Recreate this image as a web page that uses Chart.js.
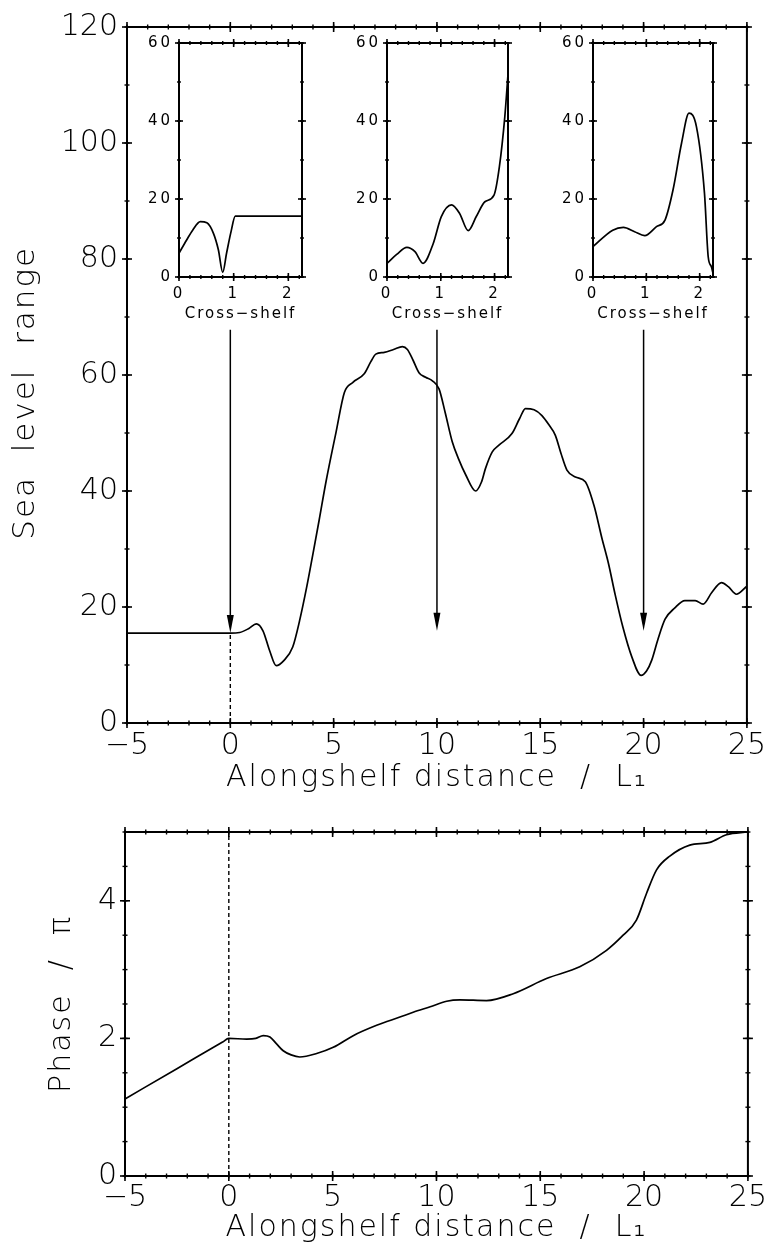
<!DOCTYPE html>
<html><head><meta charset="utf-8">
<script src="https://cdn.jsdelivr.net/npm/chart.js@4.4.1/dist/chart.umd.min.js"></script>
<style>
html,body{margin:0;padding:0;background:#fff;}
#wrap{position:relative;width:771px;height:1254px;overflow:hidden;background:#fff;}
canvas{position:absolute;}
</style></head><body>
<div id="wrap">
<canvas id="main" width="771" height="800" style="left:0;top:0;"></canvas>
<canvas id="phase" width="771" height="454" style="left:0;top:800px;"></canvas>
<canvas id="insetA" width="188" height="305" style="left:124px;top:25px;"></canvas>
<canvas id="insetB" width="186" height="305" style="left:332px;top:25px;"></canvas>
<canvas id="insetC" width="185" height="305" style="left:538px;top:25px;"></canvas>
</div>
<script>
// ---------- DATA ----------
const alongX = [-5, 0, 0.45, 0.9, 1.26, 1.58, 1.9, 2.22, 2.6, 3.02, 3.35, 3.7, 3.99, 4.3, 4.63, 5.12, 5.52, 5.92, 6.48, 6.8, 7.04, 7.45, 7.9, 8.33, 8.57, 8.85, 9.13, 9.45, 9.78, 10.1, 10.4, 10.74, 11.05, 11.39, 11.87, 12.15, 12.35, 12.67, 13.0, 13.63, 14.0, 14.28, 14.7, 15.08, 15.4, 15.73, 16.0, 16.29, 16.7, 17.18, 17.6, 17.98, 18.3, 18.62, 19.0, 19.43, 19.88, 20.15, 20.39, 20.7, 21.04, 21.5, 22.0, 22.5, 22.88, 23.3, 23.77, 24.1, 24.49, 25];
const seaLevelRange = [15.5, 15.5, 15.6, 16.3, 17.1, 15.9, 12.5, 9.9, 10.8, 13.1, 17.6, 23.5, 29, 35, 41.6, 50.2, 57, 58.7, 60.2, 62.3, 63.6, 63.9, 64.4, 64.9, 64.4, 62.5, 60.4, 59.6, 59.0, 57.6, 53.5, 48.5, 45.5, 42.8, 40.0, 41.5, 43.9, 46.7, 47.9, 49.9, 52.5, 54.2, 54.0, 53.0, 51.5, 49.6, 46.5, 43.6, 42.4, 41.6, 37.5, 31.9, 27.5, 22.2, 16.5, 11.4, 8.2, 9.0, 10.8, 14.5, 17.9, 19.8, 21.1, 21.1, 20.5, 22.5, 24.2, 23.5, 22.2, 23.6];

const phaseX = [-5, -2.5, -0.3, 0, 0.86, 1.3, 1.66, 1.98, 2.3, 2.62, 3.0, 3.42, 4.23, 5.03, 5.99, 7.12, 8.24, 8.88, 9.7, 10.49, 11.13, 12.41, 13.7, 15.3, 16.9, 18.19, 18.99, 19.63, 20.12, 20.6, 21.24, 22.2, 23.17, 23.97, 25];
const phaseOverPi = [1.12, 1.56, 1.947, 2.0, 1.99, 2.0, 2.04, 2.02, 1.92, 1.82, 1.76, 1.73, 1.78, 1.87, 2.04, 2.19, 2.31, 2.38, 2.46, 2.54, 2.56, 2.55, 2.65, 2.87, 3.04, 3.28, 3.50, 3.72, 4.11, 4.45, 4.65, 4.81, 4.85, 4.96, 5.0];

// cross-shelf profiles at alongshelf 0, 10, 20
const crossA_x = [0, 0.14, 0.25, 0.39, 0.51, 0.63, 0.72, 0.80, 0.87, 0.95, 1.03, 2.25];
const crossA_y = [6.1, 9.5, 12.0, 14.2, 13.9, 11.2, 7.0, 1.2, 6.1, 11.5, 15.6, 15.6];
const crossB_x = [0, 0.18, 0.37, 0.52, 0.67, 0.86, 1.01, 1.2, 1.35, 1.51, 1.66, 1.82, 1.99, 2.09, 2.19, 2.25];
const crossB_y = [3.5, 5.8, 7.6, 6.5, 3.5, 8.6, 15.5, 18.5, 16.3, 11.9, 15.5, 19.3, 21, 28.3, 41, 52];
const crossC_x = [0, 0.37, 0.57, 0.78, 0.97, 1.19, 1.35, 1.5, 1.66, 1.8, 1.94, 2.09, 2.16, 2.22, 2.25];
const crossC_y = [7.8, 12, 12.7, 11.6, 10.6, 12.9, 14.6, 22.3, 34.3, 42, 38.5, 21.5, 5.2, 2.6, 1];

// arrows (alongshelf position, start and tip values on the sea level axis)
const arrowX = [0, 10, 20];
const arrowFrom = [67.8, 67.8, 67.8];
const arrowTo = [15.5, 15.9, 15.9];

// tick labels
const alongTicks = [-5, 0, 5, 10, 15, 20, 25];
const rangeTicks = [0, 20, 40, 60, 80, 100, 120];
const phaseTicks = [0, 2, 4];
const crossTicks = [0, 1, 2];
const insetRangeTicks = [0, 20, 40, 60];

// ---------- HELPERS ----------
const FONT = "'DejaVu Sans', sans-serif";
function steps(a, b, s) { const r = []; for (let v = a; v <= b + 1e-9; v += s) r.push(+v.toFixed(4)); return r; }
function fmt(v) { return String(v).replace('-', '\u2212'); }
function pts(xs, ys) { return xs.map((x, i) => ({x, y: ys[i]})); }

const spacingPlugin = {
  id: 'spacing',
  beforeLayout(chart, a, o) { chart.ctx.letterSpacing = o.ticks || '0px'; },
  beforeDraw(chart, a, o) { chart.ctx.letterSpacing = o.title || '0px'; },
  beforeDatasetsDraw(chart, a, o) { chart.ctx.letterSpacing = o.ticks || '0px'; },
  afterDraw(chart) { chart.ctx.letterSpacing = '0px'; }
};

const framePlugin = {
  id: 'frame',
  afterDraw(chart, args, o) {
    const {ctx, chartArea: a} = chart;
    const xs = chart.scales.x, ys = chart.scales.y;
    ctx.save();
    ctx.strokeStyle = '#000';
    ctx.lineCap = 'butt';
    ctx.lineWidth = o.lineWidth;
    ctx.strokeRect(a.left, a.top, a.right - a.left, a.bottom - a.top);
    const seg = (x1, y1, x2, y2) => { ctx.beginPath(); ctx.moveTo(x1, y1); ctx.lineTo(x2, y2); ctx.stroke(); };
    const doX = (vals, len, w) => { ctx.lineWidth = w; vals.forEach(v => { const p = xs.getPixelForValue(v); seg(p, a.bottom - len, p, a.bottom + len); seg(p, a.top - len, p, a.top + len); }); };
    const doY = (vals, len, w) => { ctx.lineWidth = w; vals.forEach(v => { const p = ys.getPixelForValue(v); seg(a.left - len, p, a.left + len, p); seg(a.right - len, p, a.right + len, p); }); };
    doX(o.xMinor, o.minorLen, 1.4); doY(o.yMinor, o.minorLen, 1.4);
    doX(o.xMajor, o.majorLen, 1.6); doY(o.yMajor, o.majorLen, 1.6);
    ctx.restore();
  }
};

const guidePlugin = {
  id: 'guide',
  afterDatasetsDraw(chart, args, o) {
    if (!o || o.x === undefined) return;
    const {ctx} = chart;
    const xs = chart.scales.x, ys = chart.scales.y;
    const px = xs.getPixelForValue(o.x);
    ctx.save();
    ctx.strokeStyle = '#000';
    ctx.lineWidth = 1.4;
    ctx.setLineDash([4, 3]);
    ctx.beginPath();
    ctx.moveTo(px, ys.getPixelForValue(o.from));
    ctx.lineTo(px, ys.getPixelForValue(o.to));
    ctx.stroke();
    ctx.restore();
  }
};

const arrowPlugin = {
  id: 'arrows',
  afterDatasetsDraw(chart, args, o) {
    if (!o || !o.x) return;
    const {ctx} = chart;
    const xs = chart.scales.x, ys = chart.scales.y;
    ctx.save();
    ctx.strokeStyle = '#000'; ctx.fillStyle = '#000'; ctx.lineWidth = 1.5;
    o.x.forEach((xv, i) => {
      const px = xs.getPixelForValue(xv);
      const y1 = ys.getPixelForValue(o.from[i]);
      const y2 = ys.getPixelForValue(o.to[i]);
      ctx.beginPath(); ctx.moveTo(px, y1); ctx.lineTo(px, y2 - 10); ctx.stroke();
      ctx.beginPath(); ctx.moveTo(px - 3.5, y2 - 18); ctx.lineTo(px + 3.5, y2 - 18); ctx.lineTo(px, y2); ctx.closePath(); ctx.fill();
    });
    ctx.restore();
  }
};

function lineDataset(xs, ys) {
  return { data: pts(xs, ys), borderColor: '#000', borderWidth: 1.7, pointRadius: 0, fill: false, cubicInterpolationMode: 'monotone' };
}

function makeChart(id, o) {
  const f = (size) => ({ family: FONT, size, weight: o.weight });
  return new Chart(document.getElementById(id), {
    type: 'line',
    data: { datasets: [lineDataset(o.xs, o.ys)] },
    options: {
      responsive: false, animation: false, events: [],
      layout: { padding: o.padding },
      plugins: {
        legend: { display: false }, tooltip: { enabled: false },
        spacing: o.spacing,
        frame: o.frame,
        guide: o.guide || {},
        arrows: o.arrows || {}
      },
      scales: {
        x: {
          type: 'linear', min: o.xMin, max: o.xMax,
          afterBuildTicks: s => { s.ticks = o.xTicks.map(v => ({value: v})); },
          afterFit: s => { s.height = o.xHeight; },
          grid: { display: false, drawTicks: false }, border: { display: false },
          ticks: { z: 1, padding: o.xTickPad, color: '#000', font: f(o.tickSize), maxRotation: 0, minRotation: 0, autoSkip: false, callback: v => fmt(v) },
          title: o.xTitle ? { display: true, text: o.xTitle, color: '#000', font: f(o.titleSize), padding: { top: 0, bottom: o.xTitlePad } } : { display: false }
        },
        y: {
          type: 'linear', min: o.yMin, max: o.yMax,
          afterBuildTicks: s => { s.ticks = o.yTicks.map(v => ({value: v})); },
          afterFit: s => { s.width = o.yWidth; },
          grid: { display: false, drawTicks: false }, border: { display: false },
          ticks: { z: 1, padding: o.yTickPad, color: '#000', font: f(o.tickSize), autoSkip: false, callback: v => fmt(v) },
          title: o.yTitle ? { display: true, text: o.yTitle, color: '#000', font: f(o.yTitleSize || o.titleSize), padding: { top: o.yTitlePad, bottom: 0 } } : { display: false }
        }
      }
    },
    plugins: [spacingPlugin, framePlugin, guidePlugin, arrowPlugin]
  });
}

// ---------- MAIN (sea level range) ----------
makeChart('main', {
  xs: alongX, ys: seaLevelRange, weight: 200,
  padding: { left: 0, top: 22, right: 23, bottom: 0 },
  xMin: -5, xMax: 25, yMin: 0, yMax: 120,
  xTicks: alongTicks, yTicks: rangeTicks,
  xHeight: 77, yWidth: 127, xTickPad: 5, yTickPad: 9,
  tickSize: 30, titleSize: 30, yTitleSize: 31,
  xTitle: 'Alongshelf distance  /  L\u2081', xTitlePad: 3.5,
  yTitle: 'Sea  level  range   ', yTitlePad: 7.4,
  spacing: { title: '2px', ticks: '0px' },
  frame: { lineWidth: 2, majorLen: 5, minorLen: 2.5, xMajor: alongTicks, yMajor: rangeTicks, xMinor: steps(-5, 25, 1), yMinor: steps(0, 120, 10) },
  guide: { x: 0, from: 0, to: arrowTo[0] },
  arrows: { x: arrowX, from: arrowFrom, to: arrowTo }
});

// ---------- PHASE ----------
makeChart('phase', {
  xs: phaseX, ys: phaseOverPi, weight: 200,
  padding: { left: 0, top: 32, right: 23, bottom: 0 },
  xMin: -5, xMax: 25, yMin: 0, yMax: 5,
  xTicks: alongTicks, yTicks: phaseTicks,
  xHeight: 78, yWidth: 125, xTickPad: 4, yTickPad: 8,
  tickSize: 30, titleSize: 30,
  xTitle: 'Alongshelf distance  /  L\u2081', xTitlePad: 8,
  yTitle: 'Phase  /  \u03C0', yTitlePad: 44,
  spacing: { title: '2px', ticks: '0px' },
  frame: { lineWidth: 2, majorLen: 5, minorLen: 2.5, xMajor: alongTicks, yMajor: phaseTicks, xMinor: steps(-5, 25, 1), yMinor: steps(0, 5, 0.5) },
  guide: { x: 0, from: 0, to: 5 }
});

// ---------- INSETS ----------
function inset(id, xs, ys) {
  makeChart(id, {
    xs, ys, weight: 'normal',
    padding: { left: 0, top: 18, right: 10, bottom: 0 },
    xMin: 0, xMax: 2.25, yMin: 0, yMax: 60,
    xTicks: crossTicks, yTicks: insetRangeTicks,
    xHeight: 53, yWidth: 55, xTickPad: 8.5, yTickPad: 6,
    tickSize: 15, titleSize: 15,
    xTitle: 'Cross\u2212shelf', xTitlePad: 7,
    spacing: { title: '2px', ticks: '3px' },
    frame: { lineWidth: 2, majorLen: 4, minorLen: 2, xMajor: crossTicks, yMajor: insetRangeTicks, xMinor: steps(0, 2.2, 0.2), yMinor: steps(0, 60, 10) }
  });
}
inset('insetA', crossA_x, crossA_y);
inset('insetB', crossB_x, crossB_y);
inset('insetC', crossC_x, crossC_y);
</script>
</body></html>
